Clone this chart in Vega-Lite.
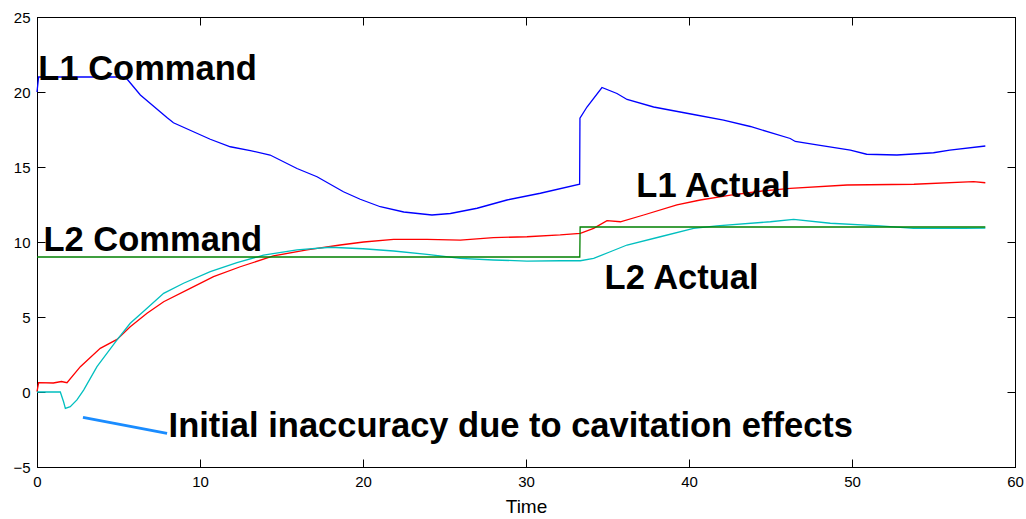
{
  "$schema": "https://vega.github.io/schema/vega-lite/v6.json",
  "autosize": "none",
  "width": 978,
  "height": 450,
  "padding": {"left": 37, "top": 17, "right": 11, "bottom": 52},
  "background": "white",
  "config": {
    "view": {"stroke": "black", "strokeWidth": 1},
    "font": "Liberation Sans",
    "axis": {"grid": false, "labelFlush": false, "labelOverlap": false, "domainColor": "black", "tickColor": "black", "labelColor": "black", "titleColor": "black", "labelFont": "Liberation Sans", "titleFont": "Liberation Sans", "labelFontSize": 15, "titleFontSize": 19, "titleFontWeight": "normal", "tickSize": -8, "domainWidth": 1, "tickWidth": 1}
  },
  "datasets": {
    "series": [
      {"t": 0, "v": 20, "s": "L1 Command"},
      {"t": 0.1, "v": 21, "s": "L1 Command"},
      {"t": 5.42, "v": 21, "s": "L1 Command"},
      {"t": 6.34, "v": 19.8, "s": "L1 Command"},
      {"t": 7.97, "v": 18.3, "s": "L1 Command"},
      {"t": 8.37, "v": 17.95, "s": "L1 Command"},
      {"t": 9.6, "v": 17.35, "s": "L1 Command"},
      {"t": 10.63, "v": 16.85, "s": "L1 Command"},
      {"t": 11.86, "v": 16.35, "s": "L1 Command"},
      {"t": 13.09, "v": 16.09, "s": "L1 Command"},
      {"t": 14.3, "v": 15.8, "s": "L1 Command"},
      {"t": 15.95, "v": 14.9, "s": "L1 Command"},
      {"t": 17.18, "v": 14.35, "s": "L1 Command"},
      {"t": 18.8, "v": 13.35, "s": "L1 Command"},
      {"t": 19.83, "v": 12.85, "s": "L1 Command"},
      {"t": 21.06, "v": 12.35, "s": "L1 Command"},
      {"t": 22.5, "v": 12.0, "s": "L1 Command"},
      {"t": 24.23, "v": 11.8, "s": "L1 Command"},
      {"t": 25.36, "v": 11.9, "s": "L1 Command"},
      {"t": 27.0, "v": 12.25, "s": "L1 Command"},
      {"t": 28.83, "v": 12.8, "s": "L1 Command"},
      {"t": 30.88, "v": 13.25, "s": "L1 Command"},
      {"t": 33.29, "v": 13.85, "s": "L1 Command"},
      {"t": 33.31, "v": 18.25, "s": "L1 Command"},
      {"t": 33.74, "v": 19.0, "s": "L1 Command"},
      {"t": 34.66, "v": 20.3, "s": "L1 Command"},
      {"t": 35.58, "v": 19.9, "s": "L1 Command"},
      {"t": 36.2, "v": 19.5, "s": "L1 Command"},
      {"t": 37.83, "v": 19.0, "s": "L1 Command"},
      {"t": 39.05, "v": 18.75, "s": "L1 Command"},
      {"t": 40.28, "v": 18.5, "s": "L1 Command"},
      {"t": 42.12, "v": 18.13, "s": "L1 Command"},
      {"t": 43.76, "v": 17.7, "s": "L1 Command"},
      {"t": 46.21, "v": 16.9, "s": "L1 Command"},
      {"t": 46.52, "v": 16.7, "s": "L1 Command"},
      {"t": 47.85, "v": 16.47, "s": "L1 Command"},
      {"t": 49.9, "v": 16.13, "s": "L1 Command"},
      {"t": 50.9, "v": 15.85, "s": "L1 Command"},
      {"t": 52.76, "v": 15.8, "s": "L1 Command"},
      {"t": 55.0, "v": 15.95, "s": "L1 Command"},
      {"t": 56.0, "v": 16.13, "s": "L1 Command"},
      {"t": 58.18, "v": 16.4, "s": "L1 Command"},

      {"t": 0, "v": 0.02, "s": "L1 Actual"},
      {"t": 0.1, "v": 0.62, "s": "L1 Actual"},
      {"t": 1.0, "v": 0.6, "s": "L1 Actual"},
      {"t": 1.5, "v": 0.7, "s": "L1 Actual"},
      {"t": 1.84, "v": 0.62, "s": "L1 Actual"},
      {"t": 2.66, "v": 1.69, "s": "L1 Actual"},
      {"t": 3.88, "v": 2.91, "s": "L1 Actual"},
      {"t": 4.91, "v": 3.51, "s": "L1 Actual"},
      {"t": 5.72, "v": 4.35, "s": "L1 Actual"},
      {"t": 6.75, "v": 5.25, "s": "L1 Actual"},
      {"t": 7.77, "v": 6.02, "s": "L1 Actual"},
      {"t": 9.4, "v": 6.91, "s": "L1 Actual"},
      {"t": 10.83, "v": 7.69, "s": "L1 Actual"},
      {"t": 12.47, "v": 8.35, "s": "L1 Actual"},
      {"t": 14.5, "v": 9.07, "s": "L1 Actual"},
      {"t": 16.56, "v": 9.47, "s": "L1 Actual"},
      {"t": 18.6, "v": 9.8, "s": "L1 Actual"},
      {"t": 20.04, "v": 10.0, "s": "L1 Actual"},
      {"t": 21.88, "v": 10.18, "s": "L1 Actual"},
      {"t": 23.93, "v": 10.18, "s": "L1 Actual"},
      {"t": 25.97, "v": 10.13, "s": "L1 Actual"},
      {"t": 28.0, "v": 10.29, "s": "L1 Actual"},
      {"t": 30.06, "v": 10.35, "s": "L1 Actual"},
      {"t": 32.1, "v": 10.47, "s": "L1 Actual"},
      {"t": 33.33, "v": 10.58, "s": "L1 Actual"},
      {"t": 34.15, "v": 10.91, "s": "L1 Actual"},
      {"t": 34.97, "v": 11.42, "s": "L1 Actual"},
      {"t": 35.79, "v": 11.35, "s": "L1 Actual"},
      {"t": 37.22, "v": 11.8, "s": "L1 Actual"},
      {"t": 39.26, "v": 12.47, "s": "L1 Actual"},
      {"t": 40.69, "v": 12.8, "s": "L1 Actual"},
      {"t": 42.55, "v": 13.13, "s": "L1 Actual"},
      {"t": 44.5, "v": 13.4, "s": "L1 Actual"},
      {"t": 46.21, "v": 13.58, "s": "L1 Actual"},
      {"t": 49.7, "v": 13.8, "s": "L1 Actual"},
      {"t": 53.8, "v": 13.85, "s": "L1 Actual"},
      {"t": 57.46, "v": 14.02, "s": "L1 Actual"},
      {"t": 58.18, "v": 13.95, "s": "L1 Actual"},

      {"t": 0, "v": 0, "s": "L2 Actual"},
      {"t": 1.43, "v": 0, "s": "L2 Actual"},
      {"t": 1.63, "v": -0.65, "s": "L2 Actual"},
      {"t": 1.74, "v": -1.09, "s": "L2 Actual"},
      {"t": 2.04, "v": -0.98, "s": "L2 Actual"},
      {"t": 2.45, "v": -0.53, "s": "L2 Actual"},
      {"t": 2.86, "v": 0.13, "s": "L2 Actual"},
      {"t": 3.68, "v": 1.69, "s": "L2 Actual"},
      {"t": 4.91, "v": 3.47, "s": "L2 Actual"},
      {"t": 5.72, "v": 4.58, "s": "L2 Actual"},
      {"t": 6.75, "v": 5.58, "s": "L2 Actual"},
      {"t": 7.77, "v": 6.58, "s": "L2 Actual"},
      {"t": 8.99, "v": 7.25, "s": "L2 Actual"},
      {"t": 10.63, "v": 8.02, "s": "L2 Actual"},
      {"t": 12.27, "v": 8.62, "s": "L2 Actual"},
      {"t": 13.9, "v": 9.13, "s": "L2 Actual"},
      {"t": 15.95, "v": 9.47, "s": "L2 Actual"},
      {"t": 18.0, "v": 9.65, "s": "L2 Actual"},
      {"t": 20.0, "v": 9.55, "s": "L2 Actual"},
      {"t": 21.88, "v": 9.4, "s": "L2 Actual"},
      {"t": 23.93, "v": 9.18, "s": "L2 Actual"},
      {"t": 25.97, "v": 8.91, "s": "L2 Actual"},
      {"t": 28.0, "v": 8.8, "s": "L2 Actual"},
      {"t": 30.06, "v": 8.73, "s": "L2 Actual"},
      {"t": 32.1, "v": 8.75, "s": "L2 Actual"},
      {"t": 33.33, "v": 8.75, "s": "L2 Actual"},
      {"t": 34.15, "v": 8.91, "s": "L2 Actual"},
      {"t": 35.17, "v": 9.35, "s": "L2 Actual"},
      {"t": 36.2, "v": 9.8, "s": "L2 Actual"},
      {"t": 38.24, "v": 10.35, "s": "L2 Actual"},
      {"t": 40.28, "v": 10.91, "s": "L2 Actual"},
      {"t": 41.7, "v": 11.07, "s": "L2 Actual"},
      {"t": 44.99, "v": 11.35, "s": "L2 Actual"},
      {"t": 46.42, "v": 11.51, "s": "L2 Actual"},
      {"t": 48.67, "v": 11.25, "s": "L2 Actual"},
      {"t": 51.74, "v": 11.07, "s": "L2 Actual"},
      {"t": 53.78, "v": 10.91, "s": "L2 Actual"},
      {"t": 56.85, "v": 10.91, "s": "L2 Actual"},
      {"t": 58.18, "v": 10.93, "s": "L2 Actual"},

      {"t": 0, "v": 9, "s": "L2 Command"},
      {"t": 33.3, "v": 9, "s": "L2 Command"},
      {"t": 33.32, "v": 11, "s": "L2 Command"},
      {"t": 58.18, "v": 11, "s": "L2 Command"}
    ],
    "labels": [
      {"t": 0.08, "v": 20.8, "label": "L1 Command"},
      {"t": 0.4, "v": 9.43, "label": "L2 Command"},
      {"t": 36.77, "v": 13.02, "label": "L1 Actual"},
      {"t": 34.82, "v": 6.85, "label": "L2 Actual"},
      {"t": 8.07, "v": -2.98, "label": "Initial inaccuracy due to cavitation effects"}
    ],
    "pointer": [
      {"t": 2.82, "v": -1.69},
      {"t": 7.98, "v": -2.76}
    ]
  },
  "layer": [
    {
      "data": {"name": "series"},
      "mark": {"type": "line", "strokeWidth": 1.3, "interpolate": "linear"},
      "encoding": {
        "x": {"field": "t", "type": "quantitative", "scale": {"domain": [0, 60], "nice": false, "zero": false},
              "axis": {"orient": "bottom", "values": [0, 10, 20, 30, 40, 50, 60], "title": "Time", "labelPadding": 15, "titlePadding": 8}},
        "y": {"field": "v", "type": "quantitative", "scale": {"domain": [-5, 25], "nice": false, "zero": false},
              "axis": {"orient": "left", "values": [-5, 0, 5, 10, 15, 20, 25], "title": null, "labelPadding": 15}},
        "color": {"field": "s", "type": "nominal", "legend": null,
                  "scale": {"domain": ["L1 Command", "L1 Actual", "L2 Actual", "L2 Command"], "range": ["#0000ff", "#ff0000", "#00bfbf", "#008000"]}}
      }
    },
    {
      "data": {"name": "pointer"},
      "mark": {"type": "line", "strokeWidth": 3, "color": "#1a8cff"},
      "encoding": {
        "x": {"field": "t", "type": "quantitative", "axis": {"orient": "top", "values": [0, 10, 20, 30, 40, 50, 60], "labels": false, "title": null}},
        "y": {"field": "v", "type": "quantitative", "axis": {"orient": "right", "values": [-5, 0, 5, 10, 15, 20, 25], "labels": false, "title": null}}
      }
    },
    {
      "data": {"name": "labels"},
      "mark": {"type": "text", "align": "left", "baseline": "alphabetic", "font": "Liberation Sans", "fontWeight": "bold", "fontSize": 34.5, "color": "black"},
      "encoding": {
        "x": {"field": "t", "type": "quantitative", "axis": null},
        "y": {"field": "v", "type": "quantitative", "axis": null},
        "text": {"field": "label"}
      }
    }
  ],
  "resolve": {"axis": {"x": "independent", "y": "independent"}}
}
